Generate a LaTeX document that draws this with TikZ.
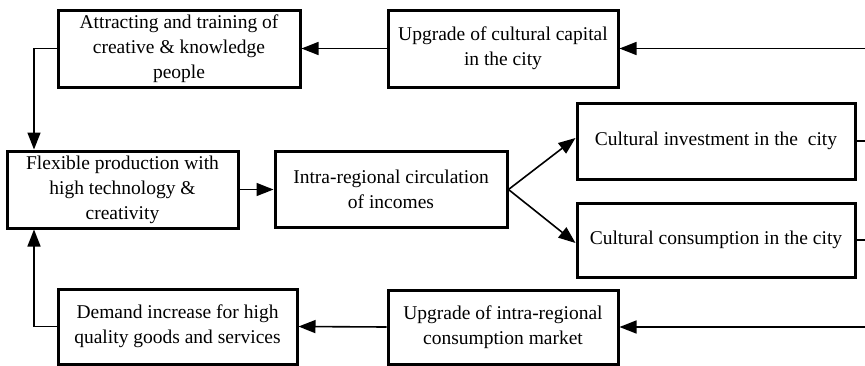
\documentclass[tikz,border=0pt]{standalone}
\usepackage{fontspec}
\setmainfont{Liberation Serif}
\usetikzlibrary{arrows.meta}
\begin{document}
\begin{tikzpicture}[x=1pt,y=-1pt,
  box/.style={draw, line width=3pt, rectangle, align=center, inner sep=1pt,
    font=\fontsize{19.5}{25}\selectfont},
  conn/.style={line width=1.6pt},
  arr/.style={conn, -{Triangle[length=17pt,width=13pt]}}]
\useasboundingbox (0,0) rectangle (865,365);
\node[box, minimum width=242pt, minimum height=77pt] (A) at (179,48.5) {Attracting and training of\\creative \& knowledge\\people};
\node[box, minimum width=230pt, minimum height=77pt] (B) at (503,48.5) {Upgrade of cultural capital\\in the city};
\node[box, minimum width=231pt, minimum height=77pt] (C) at (122.5,189.5) {Flexible production with\\high technology \&\\creativity};
\node[box, minimum width=232pt, minimum height=76pt] (D) at (391,189.5) {Intra-regional circulation\\of incomes};
\node[box, minimum width=278pt, minimum height=76pt] (E) at (716,141) {Cultural investment in the\ \ city};
\node[box, minimum width=278pt, minimum height=74pt] (F) at (716,240) {Cultural consumption in the city};
\node[box, minimum width=239pt, minimum height=75pt] (G) at (177.5,326.5) {Demand increase for high\\quality goods and services};
\node[box, minimum width=230pt, minimum height=74pt] (H) at (503,327) {Upgrade of intra-regional\\consumption market};
\coordinate (rB) at (865,48.5);
\coordinate (rE) at (865,141);
\coordinate (rF) at (865,240);
\coordinate (rH) at (865,327);
\coordinate (lA) at (34,48.5);
\coordinate (lG) at (34,326.5);
\draw[arr] (rB) -- (B.east);
\draw[arr] (B.west) -- (A.east);
\draw[arr] (A.west) -- (lA) -- (lA |- C.north);
\draw[arr] (C.east) -- (D.west);
\draw[arr] (D.east) -- ([yshift=3pt]E.west);
\draw[arr] (D.east) -- ([yshift=-3pt]F.west);
\draw[conn] (E.east) -- (rE);
\draw[conn] (F.east) -- (rF);
\draw[arr] (rH) -- (H.east);
\draw[arr] (H.west) -- (G.east);
\draw[arr] (G.west) -- (lG) -- (lG |- C.south);
\end{tikzpicture}
\end{document}
